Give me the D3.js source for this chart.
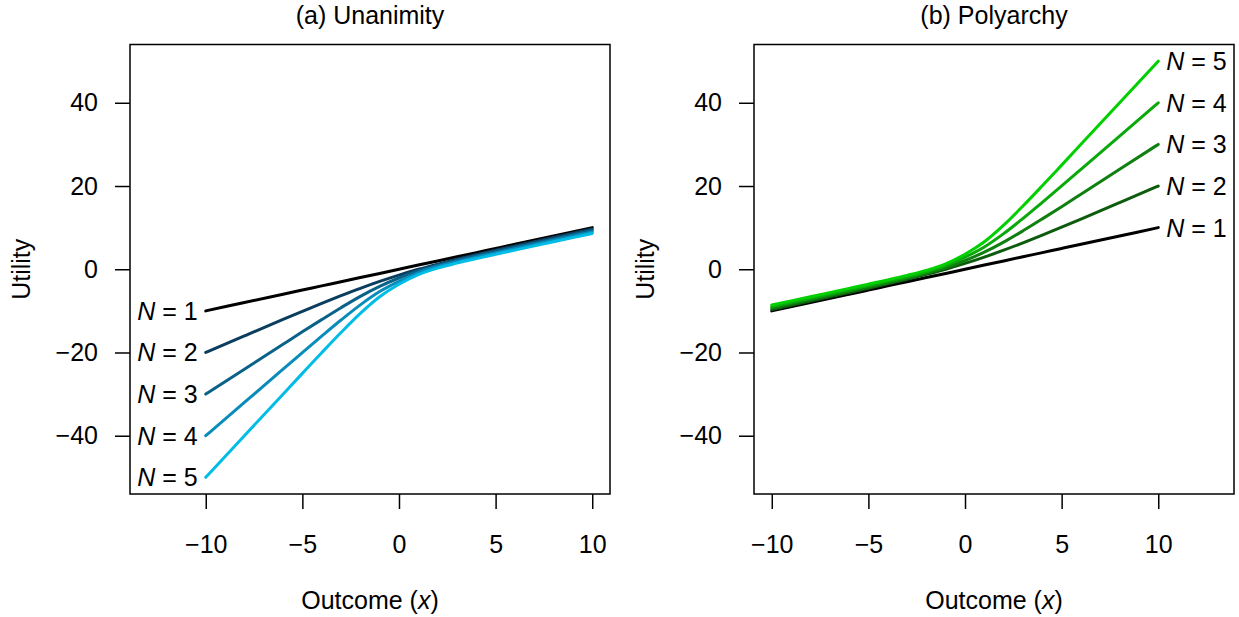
<!DOCTYPE html>
<html>
<head>
<meta charset="utf-8">
<script src="https://cdn.jsdelivr.net/npm/d3@7"></script>
<style>
  html, body { margin: 0; padding: 0; background: #fff; }
  svg { display: block; }
  text { font-family: "Liberation Sans", Arial, Helvetica, sans-serif; fill: #000; }
</style>
</head>
<body>
<svg id="chart" width="1239" height="617"></svg>
<script>
// ---- data ----
const outcomes = [-10, -8, -6, -5, -4, -3, -2, -1, 0, 1, 2, 3, 4, 5, 6, 8, 10];
const groupSizes = [1, 2, 3, 4, 5];
const xTickValues = [-10, -5, 0, 5, 10];
const yTickValues = [-40, -20, 0, 20, 40];

const unanimityN1 = [-10, -8, -6, -5, -4, -3, -2, -1, 0, 1, 2, 3, 4, 5, 6, 8, 10];
const unanimityN2 = [-20, -16.02, -12.07, -10.12, -8.2, -6.35, -4.58, -2.92, -1.4, -0.01, 1.24, 2.41, 3.51, 4.57, 5.6, 7.64, 9.65];
const unanimityN3 = [-30, -24, -18.02, -15.04, -12.1, -9.23, -6.51, -4.1, -2.1, -0.4, 0.98, 2.15, 3.24, 4.28, 5.29, 7.3, 9.3];
const unanimityN4 = [-40, -32, -24.01, -20.02, -16.07, -12.2, -8.55, -5.35, -2.9, -0.85, 0.65, 1.83, 2.9, 3.94, 4.95, 6.95, 8.95];
const unanimityN5 = [-50, -40, -30.01, -25.02, -20.06, -15.2, -10.6, -6.6, -3.6, -1.3, 0.28, 1.48, 2.56, 3.59, 4.6, 6.6, 8.6];

const polyarchyN1 = [-10, -8, -6, -5, -4, -3, -2, -1, 0, 1, 2, 3, 4, 5, 6, 8, 10];
const polyarchyN2 = [-9.65, -7.64, -5.6, -4.57, -3.51, -2.41, -1.24, 0.01, 1.4, 2.92, 4.58, 6.35, 8.2, 10.12, 12.07, 16.02, 20];
const polyarchyN3 = [-9.3, -7.3, -5.29, -4.28, -3.24, -2.15, -0.98, 0.4, 2.1, 4.1, 6.51, 9.23, 12.1, 15.04, 18.02, 24, 30];
const polyarchyN4 = [-8.95, -6.95, -4.95, -3.94, -2.9, -1.83, -0.65, 0.85, 2.9, 5.35, 8.55, 12.2, 16.07, 20.02, 24.01, 32, 40];
const polyarchyN5 = [-8.6, -6.6, -4.6, -3.59, -2.56, -1.48, -0.28, 1.3, 3.6, 6.6, 10.6, 15.2, 20.06, 25.02, 30.01, 40, 50];

const unanimityColors = ["#000000", "#0b3d5e", "#0b6289", "#0a8cba", "#00bde8"];
const polyarchyColors = ["#000000", "#0d5c0d", "#0f800f", "#0aa80a", "#00cf00"];

// ---- layout ----
const svg = d3.select("#chart");
const FS = 25;
const yTop = 44.5, yBottom = 494;

const panels = [
  { title: "(a) Unanimity", left: 130, right: 610, xDomain: [-13.92, 10.92],
    series: [unanimityN1, unanimityN2, unanimityN3, unanimityN4, unanimityN5],
    colors: unanimityColors, labelSide: "left" },
  { title: "(b) Polyarchy", left: 754, right: 1234, xDomain: [-10.92, 13.92],
    series: [polyarchyN1, polyarchyN2, polyarchyN3, polyarchyN4, polyarchyN5],
    colors: polyarchyColors, labelSide: "right" }
];

panels.forEach(p => {
  const x = d3.scaleLinear().domain(p.xDomain).range([p.left, p.right]);
  const y = d3.scaleLinear().domain([-54, 54]).range([yBottom, yTop]);
  const g = svg.append("g");

  // lines
  const line = d3.line()
    .x((d, i) => x(outcomes[i]))
    .y(d => y(d))
    .curve(d3.curveMonotoneX);

  p.series.forEach((s, k) => {
    g.append("path")
      .attr("d", line(s))
      .attr("fill", "none")
      .attr("stroke", p.colors[k])
      .attr("stroke-width", 3)
      .attr("stroke-linecap", "round")
      .attr("stroke-linejoin", "round");
  });

  // labels
  p.series.forEach((s, k) => {
    const isLeft = p.labelSide === "left";
    const xi = isLeft ? 0 : outcomes.length - 1;
    const t = g.append("text")
      .attr("x", x(outcomes[xi]) + (isLeft ? -8 : 8))
      .attr("y", y(s[xi]))
      .attr("dy", "0.36em")
      .attr("text-anchor", isLeft ? "end" : "start")
      .attr("font-size", FS)
      .attr("xml:space", "preserve")
      .style("white-space", "pre");
    t.append("tspan").attr("font-style", "italic").text("N");
    t.append("tspan").text(" = " + groupSizes[k]);
  });

  // axes
  const xAxis = d3.axisBottom(x).tickValues(xTickValues).tickSize(15).tickPadding(26)
    .tickFormat(d => d < 0 ? "\u2212" + Math.abs(d) : String(d));
  const gx = g.append("g").attr("transform", `translate(0,${yBottom})`).call(xAxis);
  gx.select(".domain").remove();
  gx.selectAll(".tick line").attr("stroke", "#000").attr("stroke-width", 1.5);
  gx.selectAll(".tick text").attr("font-size", FS).attr("font-family", "Liberation Sans, Arial, sans-serif");

  const yAxis = d3.axisLeft(y).tickValues(yTickValues).tickSize(15).tickPadding(17)
    .tickFormat(d => d < 0 ? "\u2212" + Math.abs(d) : String(d));
  const gy = g.append("g").attr("transform", `translate(${p.left},0)`).call(yAxis);
  gy.select(".domain").remove();
  gy.selectAll(".tick line").attr("stroke", "#000").attr("stroke-width", 1.5);
  gy.selectAll(".tick text").attr("font-size", FS).attr("font-family", "Liberation Sans, Arial, sans-serif");

  // box
  g.append("rect")
    .attr("x", p.left).attr("y", yTop)
    .attr("width", p.right - p.left).attr("height", yBottom - yTop)
    .attr("fill", "none").attr("stroke", "#000").attr("stroke-width", 1.5);

  // title
  g.append("text")
    .attr("x", (p.left + p.right) / 2).attr("y", 24)
    .attr("text-anchor", "middle").attr("font-size", FS)
    .text(p.title);

  // x label
  const xl = g.append("text")
    .attr("x", (p.left + p.right) / 2).attr("y", 609)
    .attr("text-anchor", "middle").attr("font-size", FS);
  xl.append("tspan").text("Outcome (");
  xl.append("tspan").attr("font-style", "italic").text("x");
  xl.append("tspan").text(")");

  // y label
  g.append("text")
    .attr("transform", `translate(${p.left - 100},${(yTop + yBottom) / 2}) rotate(-90)`)
    .attr("text-anchor", "middle").attr("font-size", FS)
    .text("Utility");
});
</script>
</body>
</html>
